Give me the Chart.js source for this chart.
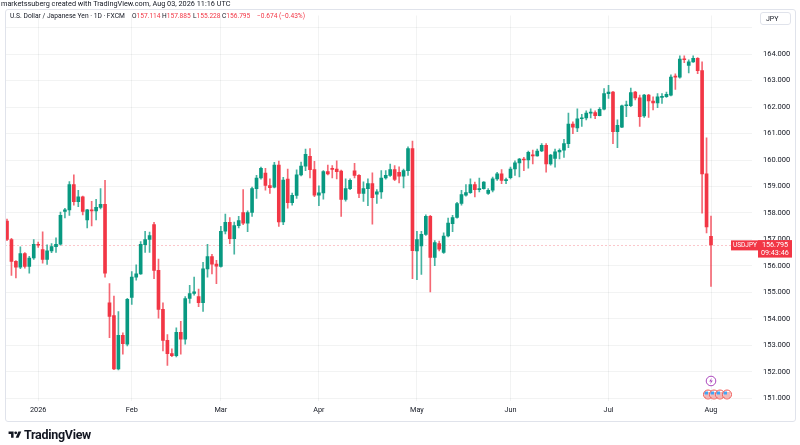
<!DOCTYPE html>
<html><head><meta charset="utf-8">
<script src="https://cdn.jsdelivr.net/npm/chart.js@4.4.1/dist/chart.umd.min.js"></script>
<style>
html,body{margin:0;padding:0;background:#fff;width:800px;height:445px;overflow:hidden;font-family:Roboto,"Noto Sans",sans-serif;}
#wrap{position:relative;width:800px;height:445px;}
#c{position:absolute;left:0;top:0;}
.t{position:absolute;white-space:nowrap;line-height:1;}
.h{position:absolute;white-space:nowrap;line-height:1;top:13px;font-size:6.6px;color:#131722;}
.r{color:#f23645;}
#frame{position:absolute;left:5px;top:9px;width:789px;height:411px;border:1px solid #e0e3eb;border-radius:3px;pointer-events:none;}
</style></head><body>
<div id="wrap">
<canvas id="c" width="800" height="445"></canvas>
<div id="frame"></div>
<div class="t" style="left:1px;top:0px;font-size:7.3px;color:#131722">marketssuberg created with TradingView.com, Aug 03, 2026 11:16 UTC</div>
<div class="h" style="left:10px;font-size:6.7px;top:13px;">U.S. Dollar / Japanese Yen · 1D · FXCM</div>
<div class="h" style="left:132px">O<span class="r">157.114</span></div>
<div class="h" style="left:162px">H<span class="r">157.885</span></div>
<div class="h" style="left:193px">L<span class="r">155.228</span></div>
<div class="h" style="left:222px">C<span class="r">156.795</span></div>
<div class="h r" style="left:257px">−0.674 (−0.43%)</div>
<div class="t" style="left:760px;top:12px;width:31px;height:13px;border:1px solid #e0e3eb;border-radius:3px;font-size:7px;color:#131722;box-sizing:border-box;padding:3px 0 0 5px;">JPY</div>
<div class="t" style="left:8px;top:428px;height:14px;display:flex;align-items:center;">
<svg width="14" height="10" viewBox="0 0 36 28"><path d="M14 22H7V11H0V4h14v18z" fill="#131722"/><circle cx="20" cy="8" r="4" fill="#131722"/><path d="M28 22h-8l7.5-18h8L28 22z" fill="#131722"/></svg>
<span style="font-weight:700;font-size:12.5px;color:#131722;margin-left:2px;letter-spacing:-0.3px;">TradingView</span></div>
</div>
<script>
// ---- data (USD/JPY daily) ----
const opens  = [157.69,157.00,156.17,155.95,156.47,155.98,156.30,156.82,156.62,156.25,156.57,156.73,156.82,158.06,158.12,159.07,158.43,158.61,157.74,158.12,158.08,158.21,158.33,154.61,154.12,152.11,153.38,153.04,154.81,155.58,155.70,156.80,157.00,157.56,155.83,154.36,153.19,152.69,152.61,153.49,153.23,154.77,154.96,154.84,154.61,155.89,156.35,156.07,155.98,157.31,157.65,157.03,157.52,158.02,157.62,158.02,158.92,159.32,159.51,159.04,158.98,159.81,157.66,159.28,158.39,158.66,159.44,159.77,160.14,159.64,158.67,158.76,159.56,159.68,159.66,159.58,158.51,158.92,159.59,159.42,158.74,158.92,159.11,158.71,158.80,159.32,159.42,159.64,159.54,159.39,159.60,160.43,156.57,156.76,157.19,157.87,156.32,156.84,156.51,157.13,157.60,157.83,158.36,158.67,158.77,159.07,158.88,158.92,158.74,158.86,159.29,159.48,159.22,159.33,159.66,159.89,160.04,160.00,160.19,160.16,160.34,160.56,159.85,160.06,160.31,160.37,160.62,161.36,161.21,161.56,161.59,161.77,161.79,161.68,161.92,162.51,162.57,161.07,161.24,162.05,162.05,162.57,162.35,161.67,162.45,162.23,162.16,162.37,162.39,162.45,163.17,163.13,163.81,163.57,163.71,163.84,163.38,159.48,157.114];
const highs  = [157.77,157.04,156.20,156.72,156.50,156.36,157.00,156.90,157.29,156.80,156.84,157.06,158.03,158.18,159.19,159.44,158.86,158.64,158.14,158.44,158.52,158.92,159.23,155.33,154.86,154.28,153.47,154.78,155.79,156.04,156.92,157.31,157.28,157.65,156.26,154.61,153.41,152.87,153.66,153.91,154.84,155.27,155.58,155.13,156.14,156.82,156.44,156.21,157.50,157.96,157.83,157.66,157.87,158.88,158.08,158.98,159.42,159.73,159.69,159.29,159.91,159.96,159.35,159.66,158.75,159.63,159.92,160.41,160.43,159.95,159.03,159.60,159.81,159.79,159.97,159.62,159.29,159.29,159.88,159.45,159.18,159.29,159.52,158.88,159.60,159.60,159.85,159.79,159.74,159.66,160.50,160.72,157.31,157.31,157.93,157.91,156.96,156.94,157.25,157.81,157.91,158.40,158.86,159.07,159.29,159.17,159.32,159.19,158.92,159.36,159.54,159.64,159.32,159.73,159.97,160.06,160.10,160.34,160.38,160.41,160.62,160.62,160.22,160.41,160.42,160.78,161.77,161.44,161.93,161.73,161.86,161.93,161.86,161.98,162.70,162.82,162.60,161.52,162.08,162.23,162.72,162.60,162.45,162.48,162.48,162.39,162.51,162.51,162.57,163.22,163.26,163.94,163.94,163.79,163.94,163.87,163.71,160.84,157.885];
const lows   = [156.95,155.64,155.55,155.90,155.92,155.73,156.25,156.70,156.10,156.06,156.50,156.51,156.78,157.81,157.91,158.30,158.24,157.93,157.44,157.51,157.74,158.15,155.58,153.29,152.08,152.07,152.67,152.98,154.55,155.46,155.68,156.51,156.51,155.52,154.03,152.79,152.24,152.57,152.56,152.67,153.04,154.59,154.90,154.46,154.28,155.58,155.70,155.33,155.95,157.21,156.84,156.44,157.44,157.56,157.29,157.87,158.55,159.28,158.86,158.74,158.95,157.49,157.56,158.18,158.30,158.55,159.40,159.60,159.32,158.62,158.28,158.52,159.44,159.32,159.29,157.87,158.45,158.88,159.32,158.58,158.44,158.28,157.58,158.36,158.55,159.28,159.38,159.22,159.14,158.95,159.42,155.52,155.48,155.68,157.15,155.02,156.01,156.57,156.47,157.10,157.29,157.80,158.30,158.64,158.74,158.61,158.80,158.90,158.70,158.80,159.23,159.11,159.11,159.29,159.42,159.36,159.60,159.69,159.85,160.15,160.32,159.54,159.81,159.73,160.04,160.10,160.47,161.00,161.07,161.27,161.52,161.59,161.56,161.67,161.89,162.33,160.62,160.47,161.22,161.64,162.02,162.27,161.27,161.61,161.61,161.89,161.98,162.14,162.37,162.42,162.67,163.09,163.68,163.29,163.69,163.26,157.99,157.25,155.228];
const closes = [157.00,156.17,155.95,156.47,155.98,156.30,156.82,156.78,156.25,156.57,156.73,156.82,157.91,158.12,159.07,158.43,158.61,158.06,158.12,158.08,158.21,158.33,155.73,154.09,152.11,153.38,153.06,154.74,155.58,155.70,156.82,157.00,157.15,155.83,154.36,153.19,152.69,152.61,153.49,153.23,154.77,154.96,155.02,154.61,155.89,156.35,156.07,155.99,157.31,157.65,157.03,157.52,157.71,157.62,158.02,158.92,159.32,159.69,159.04,158.96,159.81,157.66,159.24,158.39,158.67,159.44,159.77,160.22,159.64,158.67,158.76,159.56,159.48,159.65,159.56,158.51,158.92,159.23,159.42,158.74,158.92,159.11,158.58,158.80,159.32,159.42,159.64,159.27,159.39,159.60,160.43,156.58,157.00,157.19,157.87,156.32,156.88,156.63,157.13,157.62,157.83,158.36,158.70,158.77,159.07,158.88,158.92,159.17,158.86,159.29,159.48,159.23,159.25,159.66,159.89,160.04,160.00,160.29,160.16,160.34,160.56,159.85,160.19,160.31,160.37,160.62,161.36,161.24,161.56,161.59,161.77,161.79,161.68,161.92,162.51,162.57,161.07,161.31,162.05,162.08,162.55,162.35,161.64,162.45,162.23,162.16,162.39,162.39,162.48,163.13,163.13,163.81,163.79,163.71,163.84,163.38,159.48,157.47,156.795];
const monthTickIdx = [7, 28, 48, 70, 92, 113, 135, 158];
const monthLabels  = ['2026','Feb','Mar','Apr','May','Jun','Jul','Aug'];
const priceTicks   = [151,152,153,154,155,156,157,158,159,160,161,162,163,164,165];
const symbolName = 'USDJPY';
const countdown = '09:43:46';

const UP = '#089981', DOWN = '#f23645';
const idx = closes.map((_, i) => i);
const colors = idx.map(i => closes[i] >= opens[i] ? UP : DOWN);
const wickColors = idx.map(i => closes[i] >= opens[i] ? 'rgba(8,153,129,0.75)' : 'rgba(242,54,69,0.75)');

const overlay = {
  id: 'overlay',
  beforeDatasetsDraw(chart) {
    const {ctx, chartArea: a, scales: {y}} = chart;
    const py = Math.round(y.getPixelForValue(closes[closes.length - 1])) + 0.5;
    ctx.save();
    ctx.strokeStyle = 'rgba(242,54,69,0.28)';
    ctx.setLineDash([2, 2]);
    ctx.lineWidth = 1;
    ctx.beginPath(); ctx.moveTo(a.left, py); ctx.lineTo(a.right, py); ctx.stroke();
    ctx.restore();
  },
  afterDraw(chart) {
    const {ctx, chartArea: a, scales: {x, y}} = chart;
    const last = closes[closes.length - 1];
    const py = y.getPixelForValue(last);
    ctx.save();
    // symbol label
    ctx.fillStyle = DOWN;
    ctx.fillRect(a.right - 21, py - 4.5, 27, 10);
    ctx.fillStyle = '#fff';
    ctx.font = '6.5px Roboto';
    ctx.textBaseline = 'middle';
    ctx.textAlign = 'left';
    ctx.fillText(symbolName, a.right - 19, py + 0.5);
    // price tag
    ctx.fillStyle = DOWN;
    ctx.fillRect(a.right + 6, py - 4.8, 34, 17.5);
    ctx.fillStyle = '#fff';
    ctx.font = '7.2px Roboto';
    ctx.fillText(last.toFixed(3), a.right + 10, py);
    ctx.fillText(countdown, a.right + 9, py + 8.2);
    // event icons near last bar
    const ex = x.getPixelForValue(closes.length - 1);
    ctx.setLineDash([]);
    ctx.lineWidth = 1;
    ctx.strokeStyle = '#ab47bc';
    ctx.fillStyle = '#fff';
    ctx.beginPath(); ctx.arc(ex, 381, 4.8, 0, Math.PI * 2); ctx.fill(); ctx.stroke();
    ctx.fillStyle = '#ab47bc';
    ctx.beginPath(); ctx.moveTo(ex + 0.8, 377.8); ctx.lineTo(ex - 1.8, 381.5); ctx.lineTo(ex, 381.5); ctx.lineTo(ex - 0.8, 384.3); ctx.lineTo(ex + 1.8, 380.5); ctx.lineTo(ex, 380.5); ctx.closePath(); ctx.fill();
    [ex - 3, ex + 3, ex + 9, ex + 16].forEach(cx => {
      ctx.fillStyle = '#fff';
      ctx.beginPath(); ctx.arc(cx, 394.5, 4.5, 0, Math.PI * 2); ctx.fill();
      ctx.fillStyle = '#e57373';
      ctx.fillRect(cx - 3.5, 392.5, 7, 1); ctx.fillRect(cx - 3.5, 394.5, 7, 1); ctx.fillRect(cx - 3.5, 396.5, 7, 1);
      ctx.fillStyle = '#42a5f5';
      ctx.fillRect(cx - 3.5, 391.5, 3.5, 3);
      ctx.strokeStyle = '#ef5350';
      ctx.beginPath(); ctx.arc(cx, 394.5, 4.5, 0, Math.PI * 2); ctx.stroke();
    });
    ctx.restore();
  }
};

new Chart(document.getElementById('c'), {
  type: 'bar',
  data: {
    datasets: [
      { label: 'wick', data: idx.map(i => ({x: i, y: [lows[i], highs[i]]})), backgroundColor: wickColors, barThickness: 1, grouped: false, order: 2 },
      { label: 'body', data: idx.map(i => ({x: i, y: [opens[i], closes[i]]})), backgroundColor: colors, barThickness: 3, minBarLength: 1, grouped: false, order: 1 }
    ]
  },
  options: {
    responsive: false,
    animation: false,
    devicePixelRatio: 1,
    layout: { padding: { left: 5, top: 9, right: 0, bottom: 24 } },
    plugins: { legend: { display: false }, tooltip: { enabled: false } },
    scales: {
      x: {
        type: 'linear', min: -0.449, max: 167.2, offset: false,
        afterBuildTicks: s => { s.ticks = monthTickIdx.map(v => ({ value: v })); },
        afterFit: s => { s.height = 20; },
        grid: { color: 'rgba(42,46,57,0.06)', drawTicks: false, offset: false },
        border: { display: false },
        ticks: {
          padding: 5, maxRotation: 0, autoSkip: false, color: '#131722',
          font: { family: 'Roboto', size: 7.3 },
          callback: v => { const k = monthTickIdx.indexOf(v); return k >= 0 ? monthLabels[k] : ''; }
        }
      },
      y: {
        position: 'right', min: 150.898, max: 165.46,
        afterBuildTicks: s => { s.ticks = priceTicks.map(v => ({ value: v })); },
        afterFit: s => { s.width = 48; },
        grid: { color: 'rgba(42,46,57,0.06)', drawTicks: false },
        border: { display: false },
        ticks: {
          padding: 11, color: '#131722', font: { family: 'Roboto', size: 7.5 },
          callback: v => v === 165 ? '' : Number(v).toFixed(3)
        }
      }
    }
  },
  plugins: [overlay]
});
</script>
</body></html>
